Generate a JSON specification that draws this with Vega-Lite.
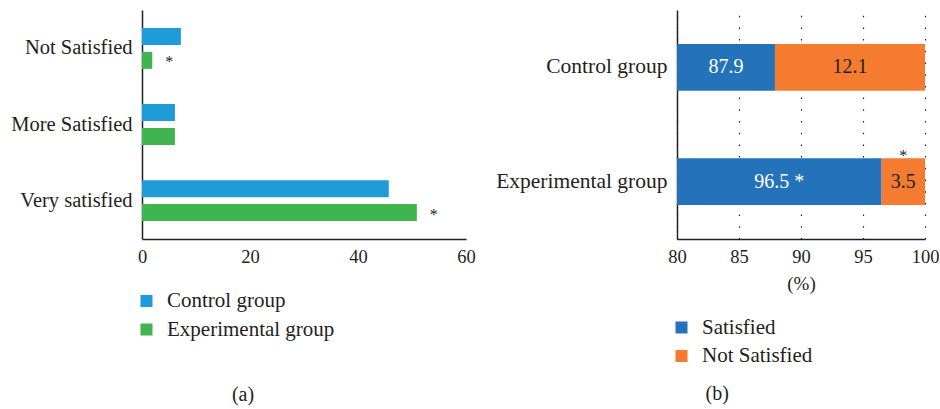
{
  "$schema": "https://vega.github.io/schema/vega-lite/v6.json",
  "padding": {"left": 10, "top": 10, "right": 0, "bottom": 0},
  "bounds": "flush",
  "spacing": 211,
  "config": {
    "view": {"stroke": null},
    "font": "Liberation Serif",
    "axis": {
      "labelFont": "Liberation Serif", "labelColor": "#231F20", "labelFontSize": 18.5,
      "domainColor": "#231F20", "domainWidth": 1.5,
      "ticks": false, "tickSize": 0, "grid": false, "labelLimit": 300,
      "titleFont": "Liberation Serif", "titleFontWeight": "normal", "titleFontSize": 19, "titleColor": "#231F20"
    },
    "axisY": {"labelFontSize": 20.5, "labelPadding": 10},
    "axisX": {"labelPadding": 8, "labelFlush": false},
    "legend": {
      "labelFont": "Liberation Serif", "labelFontSize": 21, "labelColor": "#231F20", "labelLimit": 400,
      "symbolType": "square", "symbolSize": 144, "symbolStrokeWidth": 0, "labelOffset": 10,
      "rowPadding": 6.5, "padding": 0, "direction": "vertical"
    },
    "title": {"orient": "bottom", "anchor": "middle", "frame": "bounds", "font": "Liberation Serif", "fontSize": 20, "fontWeight": "normal", "color": "#231F20"}
  },
  "resolve": {"scale": {"color": "independent"}, "legend": {"color": "independent"}},
  "datasets": {
    "satisfaction": [
      {"level": "Not Satisfied", "group": "Control group", "value": 7.2, "sig": ""},
      {"level": "Not Satisfied", "group": "Experimental group", "value": 1.9, "sig": "*"},
      {"level": "More Satisfied", "group": "Control group", "value": 6.1, "sig": ""},
      {"level": "More Satisfied", "group": "Experimental group", "value": 6.1, "sig": ""},
      {"level": "Very satisfied", "group": "Control group", "value": 45.7, "sig": ""},
      {"level": "Very satisfied", "group": "Experimental group", "value": 50.9, "sig": "*"}
    ],
    "overall": [
      {"group": "Control group", "status": "Satisfied", "value": 87.9, "label": "87.9", "note": ""},
      {"group": "Control group", "status": "Not Satisfied", "value": 12.1, "label": "12.1", "note": ""},
      {"group": "Experimental group", "status": "Satisfied", "value": 96.5, "label": "96.5 *", "note": ""},
      {"group": "Experimental group", "status": "Not Satisfied", "value": 3.5, "label": "3.5", "note": "*"}
    ]
  },
  "hconcat": [
    {
      "width": 324, "height": 229,
      "data": {"name": "satisfaction"},
      "title": {"text": "(a)", "offset": 45},
      "encoding": {
        "y": {"field": "level", "type": "nominal", "sort": ["Not Satisfied", "More Satisfied", "Very satisfied"],
              "scale": {"paddingInner": 0.463, "paddingOuter": 0.236}, "axis": {"title": null}},
        "yOffset": {"field": "group", "type": "nominal", "sort": ["Control group", "Experimental group"],
                    "scale": {"paddingInner": 0.29, "paddingOuter": 0}},
        "x": {"field": "value", "type": "quantitative", "scale": {"domain": [0, 60], "nice": false},
              "axis": {"values": [0, 20, 40, 60], "title": null}}
      },
      "layer": [
        {
          "mark": {"type": "bar"},
          "encoding": {
            "color": {"field": "group", "type": "nominal",
                      "scale": {"domain": ["Control group", "Experimental group"], "range": ["#1F9BD7", "#40B54F"]},
                      "legend": {"title": null, "orient": "none", "legendX": -6, "legendY": 280.5}}
          }
        },
        {
          "mark": {"type": "text", "dx": 17, "dy": 2, "fontSize": 16, "color": "#231F20"},
          "encoding": {"text": {"field": "sig"}}
        }
      ]
    },
    {
      "width": 248, "height": 229,
      "data": {"name": "overall"},
      "title": {"text": "(b)", "offset": 18},
      "encoding": {
        "y": {"field": "group", "type": "nominal", "sort": ["Control group", "Experimental group"],
              "scale": {"paddingInner": 0.591, "paddingOuter": 0.296}, "axis": {"title": null, "labelFontSize": 21.5}}
      },
      "layer": [
        {
          "transform": [{"stack": "value", "groupby": ["group"], "sort": [{"field": "status", "order": "descending"}], "as": ["v0", "v1"]}],
          "mark": {"type": "bar", "clip": true},
          "encoding": {
            "x": {"field": "v0", "type": "quantitative", "scale": {"domain": [80, 100], "nice": false, "zero": false},
                  "axis": {"values": [80, 85, 90, 95, 100], "grid": true, "gridDash": [1.5, 10.2], "gridColor": "#231F20", "gridWidth": 1.2, "title": "(%)", "titlePadding": 9}},
            "x2": {"field": "v1"},
            "color": {"field": "status", "type": "nominal",
                      "scale": {"domain": ["Satisfied", "Not Satisfied"], "range": ["#2473BA", "#F47B30"]},
                      "legend": {"title": null, "orient": "none", "legendX": -6, "legendY": 307}}
          }
        },
        {
          "transform": [{"filter": "datum.status === 'Satisfied'"}],
          "mark": {"type": "text", "color": "white", "fontSize": 20},
          "encoding": {
            "x": {"field": "value", "type": "quantitative", "scale": {"domain": [80, 120], "nice": false, "zero": false}, "axis": null},
            "text": {"field": "label"}
          }
        },
        {
          "transform": [{"filter": "datum.status === 'Not Satisfied'"}],
          "mark": {"type": "text", "color": "#231F20", "fontSize": 20},
          "encoding": {
            "x": {"field": "value", "type": "quantitative", "scale": {"domain": [0, 40], "reverse": true, "nice": false, "zero": false}, "axis": null},
            "text": {"field": "label"}
          }
        },
        {
          "transform": [{"filter": "datum.status === 'Not Satisfied'"}],
          "mark": {"type": "text", "color": "#231F20", "fontSize": 16, "dy": -26},
          "encoding": {
            "x": {"field": "value", "type": "quantitative", "scale": {"domain": [0, 40], "reverse": true, "nice": false, "zero": false}, "axis": null},
            "text": {"field": "note"}
          }
        }
      ],
      "resolve": {"scale": {"x": "independent"}}
    }
  ]
}
